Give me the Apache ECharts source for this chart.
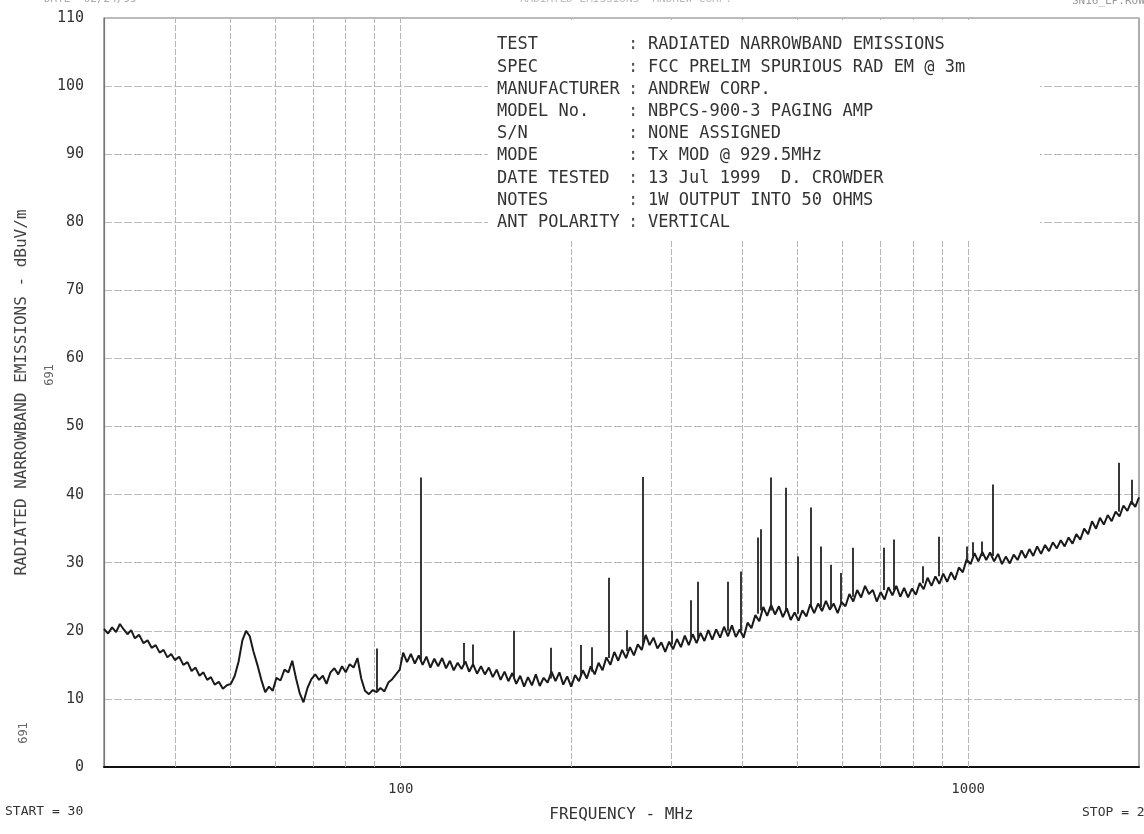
<!DOCTYPE html>
<html>
<head>
<meta charset="utf-8">
<script src="https://cdn.jsdelivr.net/npm/echarts@6/dist/echarts.min.js"></script>
<style>
html,body{margin:0;padding:0;background:#fff;}
#chart{width:1144px;height:834px;}
</style>
</head>
<body>
<div id="chart"></div>
<script>
// ---- data ----
const freqs = [
 30,30.5,31,31.5,32,32.5,33,33.5,34,34.6,35.2,35.8,36.4,37,37.6,38.2,38.8,39.4,40,40.7,41.4,42.1,42.8,43.5,44.2,44.9,45.6,46.3,47,47.8,48.6,49.4,50.2,51,51.8,52.6,53.4,54.2,55,55.9,56.8,57.7,58.6,59.5,60.4,61.4,62.4,63.4,64.4,65.4,66.4,67.4,68.5,69.6,70.7,71.8,72.9,74,75.2,76.4,77.6,78.8,80,81.3,82.6,83.9,85.2,86.5,87.9,89.3,90.7,92.1,93.6,95.1,96.6,98.1,99.6,
 101,102.6,104.2,105.9,107.6,109.3,111,112.8,114.6,116.4,118.3,120.2,122.1,124,126,128,130,132,134.1,136.3,138.5,140.7,143,145.3,147.6,150,152.4,154.8,157.3,159.8,162.4,165,167.6,170.3,173,175.8,178.6,181.5,184.4,187.4,190.4,193.4,196.5,199.7,
 202.9,206.1,209.4,212.8,216.2,219.7,223.2,226.8,230.4,234.1,237.9,241.7,245.6,249.5,253.5,257.6,261.7,265.9,270.2,274.5,278.9,283.4,287.9,292.5,297.2,302,306.8,311.7,316.7,321.8,327,332.2,337.5,342.9,348.4,354,359.7,365.5,371.4,377.3,383.4,389.5,395.7,
 402,408.5,415,421.7,428.5,435.4,442.4,449.5,456.7,464,471.4,479,486.7,494.5,502.4,510.4,518.6,526.9,535.3,543.9,552.6,561.4,570.4,579.5,588.8,598.2,607.8,617.5,627.4,637.4,647.6,658,668.5,679.2,690.1,701.1,712.3,723.7,735.3,747.1,759.1,771.2,783.5,796,808.7,821.6,834.7,848.1,861.7,875.5,889.5,903.7,918.2,932.9,947.8,963,978.4,994,
 1010,1026,1042,1059,1076,1093,1111,1129,1147,1165,1184,1203,1222,1242,1262,1282,1302,1323,1344,1366,1388,1410,1433,1456,1479,1503,1527,1551,1576,1601,1627,1653,1680,1707,1734,1762,1790,1819,1848,1878,1908,1939,1970,2000
];
const levels = [
 20.3,19.6,20.5,19.8,21.0,20.2,19.5,20.1,18.9,19.4,18.2,18.6,17.5,17.9,16.8,17.2,16.1,16.6,15.7,16.2,15.0,15.4,14.1,14.6,13.4,13.9,12.8,13.2,12.1,12.5,11.5,12.0,12.2,13.4,15.5,18.6,20.0,19.2,17.0,15.0,12.8,11.0,11.8,11.2,13.1,12.7,14.3,13.9,15.6,13.0,10.8,9.5,11.6,12.9,13.6,12.8,13.4,12.2,13.9,14.5,13.6,14.8,13.9,15.1,14.6,16.0,13.0,11.2,10.7,11.3,11.0,11.6,11.1,12.4,12.9,13.6,14.3,
 16.8,15.4,16.6,15.2,16.4,15.0,16.2,14.6,15.9,14.8,16.0,14.5,15.6,14.2,15.3,14.4,15.5,14.0,15.1,13.7,14.8,13.6,14.6,13.2,14.3,12.8,14.0,12.6,13.8,12.2,13.4,11.8,13.2,12.0,13.6,11.9,13.1,12.4,14.0,12.6,13.9,12.1,13.3,11.8,
 13.5,12.6,14.2,13.0,14.8,13.6,15.3,14.2,16.1,15.0,16.9,15.6,17.2,16.0,17.6,16.4,18.0,17.2,19.4,17.9,19.0,17.4,18.3,16.9,18.4,17.3,18.8,17.6,19.3,17.9,19.5,18.2,19.7,18.5,20.1,18.7,20.2,19.0,20.6,19.2,20.8,19.1,20.2,
 19.0,21.2,20.4,22.3,21.4,23.5,22.2,23.8,22.4,23.6,22.0,23.3,21.6,22.7,21.5,23.0,22.1,23.9,22.6,24.0,22.9,24.4,23.1,24.0,22.6,24.2,23.6,25.4,24.3,26.0,24.9,26.6,25.4,26.0,24.3,25.7,24.6,26.4,25.2,26.6,25.0,26.3,24.9,26.2,25.3,27.0,26.1,27.8,26.6,28.0,26.9,28.4,27.2,28.6,27.5,29.3,28.6,30.5,
 29.8,31.4,30.2,31.6,30.4,31.5,30.2,31.3,29.8,30.9,29.9,31.2,30.4,31.8,30.7,32.0,31.0,32.4,31.3,32.6,31.7,33.0,32.1,33.3,32.4,33.7,32.8,34.2,33.4,35.0,34.2,36.1,35.0,36.6,35.6,37.0,36.1,37.5,36.8,38.4,37.6,39.0,38.2,39.6
];
// narrowband spikes: frequency (MHz), floor level and peak level (dBuV/m)
const spikeFreqs = [90.7,108.4,129,134,158,184,208,217,233,250,267,300,325,334,377,397,426,431,449,477,500,527,549,573,597,626,709,739,830,889,993,1020,1058,1106,1842,1941];
const spikeBase  = [11.2,15.5,15.0,15.0,13.0,13.0,13.5,14.0,16.0,17.0,18.0,18.0,19.0,19.0,20.0,20.0,22.5,23.0,23.0,23.0,22.5,23.5,23.5,23.5,24.0,25.0,26.0,26.0,27.0,28.0,30.0,31.0,31.0,31.0,37.5,38.5];
const spikePeaks = [17.4,42.5,18.2,18.0,20.0,17.5,17.9,17.6,27.8,20.1,42.6,20.0,24.5,27.2,27.2,28.7,33.7,34.9,42.5,41.0,30.9,38.1,32.4,29.7,28.5,32.2,32.2,33.4,29.5,33.8,32.4,33.0,33.1,41.5,44.7,42.2];
// grid and tick values
const gridFreqs = [40,50,60,70,80,90,100,200,300,400,500,600,700,800,900,1000];
const xTickLabels = [100,1000];
const yMin = 0, yMax = 110, yStep = 10;

const infoLabels = ['TEST','SPEC','MANUFACTURER','MODEL No.','S/N','MODE','DATE TESTED','NOTES','ANT POLARITY'];
const infoValues = ['RADIATED NARROWBAND EMISSIONS','FCC PRELIM SPURIOUS RAD EM @ 3m','ANDREW CORP.','NBPCS-900-3 PAGING AMP','NONE ASSIGNED','Tx MOD @ 929.5MHz','13 Jul 1999  D. CROWDER','1W OUTPUT INTO 50 OHMS','VERTICAL'];

// ---- chart ----
const chart = echarts.init(document.getElementById('chart'), null, {renderer:'canvas'});
const FONT = 'DejaVu Sans Mono';
const traceData = freqs.map((f,i)=>[f, levels[i]]);
const spikeData = spikeFreqs.map((f,i)=>({coords:[[f, spikeBase[i]],[f, spikePeaks[i]]]}));
const vGridData = gridFreqs.map(f=>({coords:[[f, yMin],[f, yMax]]}));

const graphics = [];
// white panel of the header block (hides the grid behind it)
graphics.push({type:'rect', z:50, shape:{x:488, y:20, width:552, height:220}, style:{fill:'#fff'}});
infoLabels.forEach((t,i)=>{
  const y = 45 + i*22.2;
  graphics.push({type:'text', z:51, x:497, y:y, style:{text:t, font:'17px "'+FONT+'"', fill:'#333', verticalAlign:'middle'}});
  graphics.push({type:'text', z:51, x:628, y:y, style:{text:':', font:'17px "'+FONT+'"', fill:'#555', verticalAlign:'middle'}});
  graphics.push({type:'text', z:51, x:648, y:y, style:{text:infoValues[i], font:'17px "'+FONT+'"', fill:'#333', verticalAlign:'middle'}});
});
graphics.push({type:'text', x:5, y:812, style:{text:'START = 30', font:'13px "'+FONT+'"', fill:'#333', verticalAlign:'middle'}});
graphics.push({type:'text', x:1082, y:813, style:{text:'STOP = 2000', font:'13px "'+FONT+'"', fill:'#333', verticalAlign:'middle'}});
graphics.push({type:'text', x:50, y:375, rotation:Math.PI/2, style:{text:'691', font:'12px "'+FONT+'"', fill:'#666', align:'center', verticalAlign:'middle'}});
graphics.push({type:'text', x:24, y:733, rotation:Math.PI/2, style:{text:'691', font:'12px "'+FONT+'"', fill:'#666', align:'center', verticalAlign:'middle'}});
graphics.push({type:'text', x:44, y:-6, style:{text:'DATE  02/24/99', font:'11px "'+FONT+'"', fill:'#aaa'}});
graphics.push({type:'text', x:520, y:-6, style:{text:'RADIATED EMISSIONS  ANDREW CORP.', font:'11px "'+FONT+'"', fill:'#bbb'}});
graphics.push({type:'text', x:1072, y:-4, style:{text:'SN16_LP.ROW', font:'11px "'+FONT+'"', fill:'#999'}});

chart.setOption({
  animation:false,
  backgroundColor:'#fff',
  grid:{left:104, right:5, top:18, bottom:67, show:true, borderColor:'#777', borderWidth:1.2, backgroundColor:'transparent'},
  xAxis:{
    type:'log', logBase:10, min:30, max:2000,
    axisLine:{show:true, onZero:false, lineStyle:{color:'#111', width:2}},
    axisTick:{show:false},
    splitLine:{show:false},
    axisLabel:{customValues:xTickLabels, formatter:v=>String(v), fontFamily:FONT, fontSize:14, color:'#333', margin:15},
    name:'FREQUENCY - MHz', nameLocation:'middle', nameGap:40,
    nameTextStyle:{fontFamily:FONT, fontSize:16, color:'#333'}
  },
  yAxis:{
    type:'value', min:yMin, max:yMax, interval:yStep,
    axisLine:{show:true, lineStyle:{color:'#777', width:1.2}},
    axisTick:{show:false},
    splitLine:{show:true, lineStyle:{color:'#bdbdbd', width:1, type:[8,2]}},
    axisLabel:{fontFamily:FONT, fontSize:15, color:'#333', margin:20},
    name:'RADIATED NARROWBAND EMISSIONS - dBuV/m', nameLocation:'middle', nameRotate:90, nameGap:74,
    nameTextStyle:{fontFamily:FONT, fontSize:16, color:'#444'}
  },
  graphic:graphics,
  series:[
    {type:'lines', coordinateSystem:'cartesian2d', data:vGridData, silent:true, z:1,
     lineStyle:{color:'#b5b5b5', width:1, type:[6,2], opacity:1}},
    {type:'line', data:traceData, symbol:'none', z:3, silent:true,
     lineStyle:{color:'#1a1a1a', width:2}},
    {type:'lines', coordinateSystem:'cartesian2d', data:spikeData, silent:true, z:4,
     lineStyle:{color:'#222', width:1.8, opacity:1}}
  ]
});
</script>
</body>
</html>
